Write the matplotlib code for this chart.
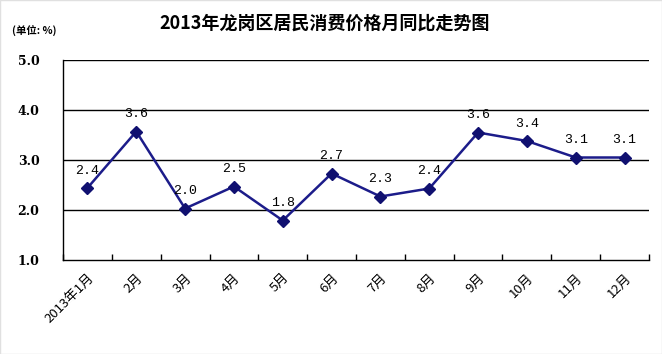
import matplotlib
matplotlib.use("Agg")
import matplotlib.pyplot as plt
import numpy as np

months = ["2013年1月", "2月", "3月", "4月", "5月", "6月", "7月", "8月", "9月", "10月", "11月", "12月"]
values = [2.44, 3.57, 2.03, 2.47, 1.79, 2.73, 2.27, 2.43, 3.55, 3.38, 3.05, 3.05]
labels = ["2.4", "3.6", "2.0", "2.5", "1.8", "2.7", "2.3", "2.4", "3.6", "3.4", "3.1", "3.1"]
yticks = [1.0, 2.0, 3.0, 4.0, 5.0]
title = "2013年龙岗区居民消费价格月同比走势图"
unit = "(单位: %)"

cjk = ["Noto Sans CJK SC", "DejaVu Sans"]
plt.rcParams['font.family'] = cjk

W, H = 662, 354
fig = plt.figure(figsize=(W / 100, H / 100), dpi=100)
fig.patch.set_facecolor("white")
ax = fig.add_axes([63 / W, 1 - 260 / H, (649 - 63) / W, 200 / H])

x = np.arange(len(months)) + 0.5
ax.plot(x, values, color="#1c1c8a", lw=1.8, marker="D", markersize=6,
        markerfacecolor="#101070", markeredgecolor="#101070", zorder=3)
for xi, v, t in zip(x, values, labels):
    ax.annotate(t, (xi, v), xytext=(0, 8), textcoords="offset points",
                ha="center", va="bottom", fontsize=9.5, family="Liberation Mono", color="black")

ax.set_xlim(0, 12)
ax.set_ylim(1, 5)
for yv in yticks[1:]:
    ax.axhline(yv, color="black", lw=1.0, zorder=1)

ax.spines["top"].set_visible(False)
ax.spines["right"].set_visible(False)
ax.spines["left"].set_linewidth(1.0)
ax.spines["bottom"].set_linewidth(1.0)

ax.set_yticks(yticks)
ax.set_yticklabels([f"{v:.1f}" for v in yticks], fontsize=9, fontweight="bold",
                   family="DejaVu Serif")
ax.tick_params(axis="y", length=0, pad=17)

ax.set_xticks(np.arange(0, 13))
ax.set_xticklabels([])
ax.tick_params(axis="x", direction="in", length=4, width=1)
ax.set_xticks(x, minor=True)
ax.set_xticklabels(months, minor=True, rotation=45, ha="right", va="top",
                   rotation_mode="anchor", fontsize=9.5)
ax.tick_params(axis="x", which="minor", length=0, pad=8)

fig.text(325 / W, 1 - 23 / H, title, ha="center", va="center", fontsize=13,
         fontweight="bold")
fig.text(12 / W, 1 - 31 / H, unit, ha="left", va="center", fontsize=7.5, fontweight="bold")

fig.add_artist(plt.Rectangle((0, 0), 1, 1, transform=fig.transFigure, fill=False,
                             edgecolor="#e0e0e0", lw=1))
fig.savefig("out.png", dpi=100)
